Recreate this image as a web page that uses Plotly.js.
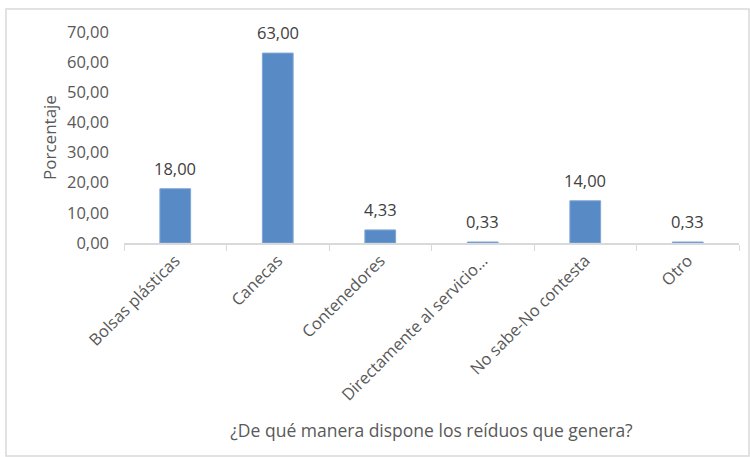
<!DOCTYPE html>
<html><head><meta charset="utf-8">
<script src="https://cdn.plot.ly/plotly-3.0.1.min.js"></script>
<style>html,body{margin:0;padding:0;background:#fff;}#chart{width:750px;height:457px;}</style>
</head><body><div id="chart"></div>
<script>
const categories = ["Bolsas plásticas","Canecas","Contenedores","Directamente al servicio…","No sabe-No contesta","Otro"];
const values = [18.00, 63.00, 4.33, 0.33, 14.00, 0.33];
const yTicks = [0,10,20,30,40,50,60,70];

const L=124, R=11, T=32, B=214, W=750, H=457;
const pw = W-L-R, ph = H-T-B;
const px = x => (x-L)/pw, py = y => (H-B-y)/ph;

const trace = {
  type:'bar', x:categories, y:values,
  marker:{color:'#588ac6', line:{color:'#7fa6d6', width:1}},
  hoverinfo:'none'
};
const labels = categories.map((c,i)=>({
  x:c, y:values[i], xref:'x', yref:'y', text:values[i].toFixed(2).replace('.',','),
  showarrow:false, yanchor:'bottom', yshift:7,
  font:{family:'Open Sans, sans-serif', size:16.5, color:'#404040'}
}));
const layout = {
  width:W, height:H, margin:{l:L,r:R,t:T,b:B},
  separators:',.',
  paper_bgcolor:'#fff', plot_bgcolor:'#fff',
  bargap:0.7, showlegend:false,
  font:{family:'Open Sans, sans-serif', color:'#595959'},
  xaxis:{type:'category', showline:true, linecolor:'#d9d9d9', linewidth:1.5,
    ticks:'outside', tickson:'boundaries', ticklen:6, tickcolor:'#d9d9d9', tickwidth:1,
    tickangle:-45, tickfont:{size:16.5, color:'#595959'}, showgrid:false, zeroline:false,
    title:{text:'¿De qué manera dispone los reíduos que genera?', font:{size:17.5, color:'#595959'}, standoff:20}},
  yaxis:{range:[0,70], tickvals:yTicks, tickformat:'.2f', showgrid:false, zeroline:false, showline:false,
    ticks:'', ticklabelstandoff:14, tickfont:{size:16.5, color:'#595959'},
    title:{text:'Porcentaje', font:{size:17, color:'#595959'}, standoff:6}},
  annotations: labels,
  shapes:[{type:'rect', xref:'paper', yref:'paper', x0:px(6), x1:px(749), y0:py(456), y1:py(9),
    line:{color:'#d9d9d9', width:1.5}, fillcolor:'rgba(0,0,0,0)', layer:'below'}]
};
Plotly.newPlot('chart',[trace],layout,{staticPlot:true});
</script></body></html>
